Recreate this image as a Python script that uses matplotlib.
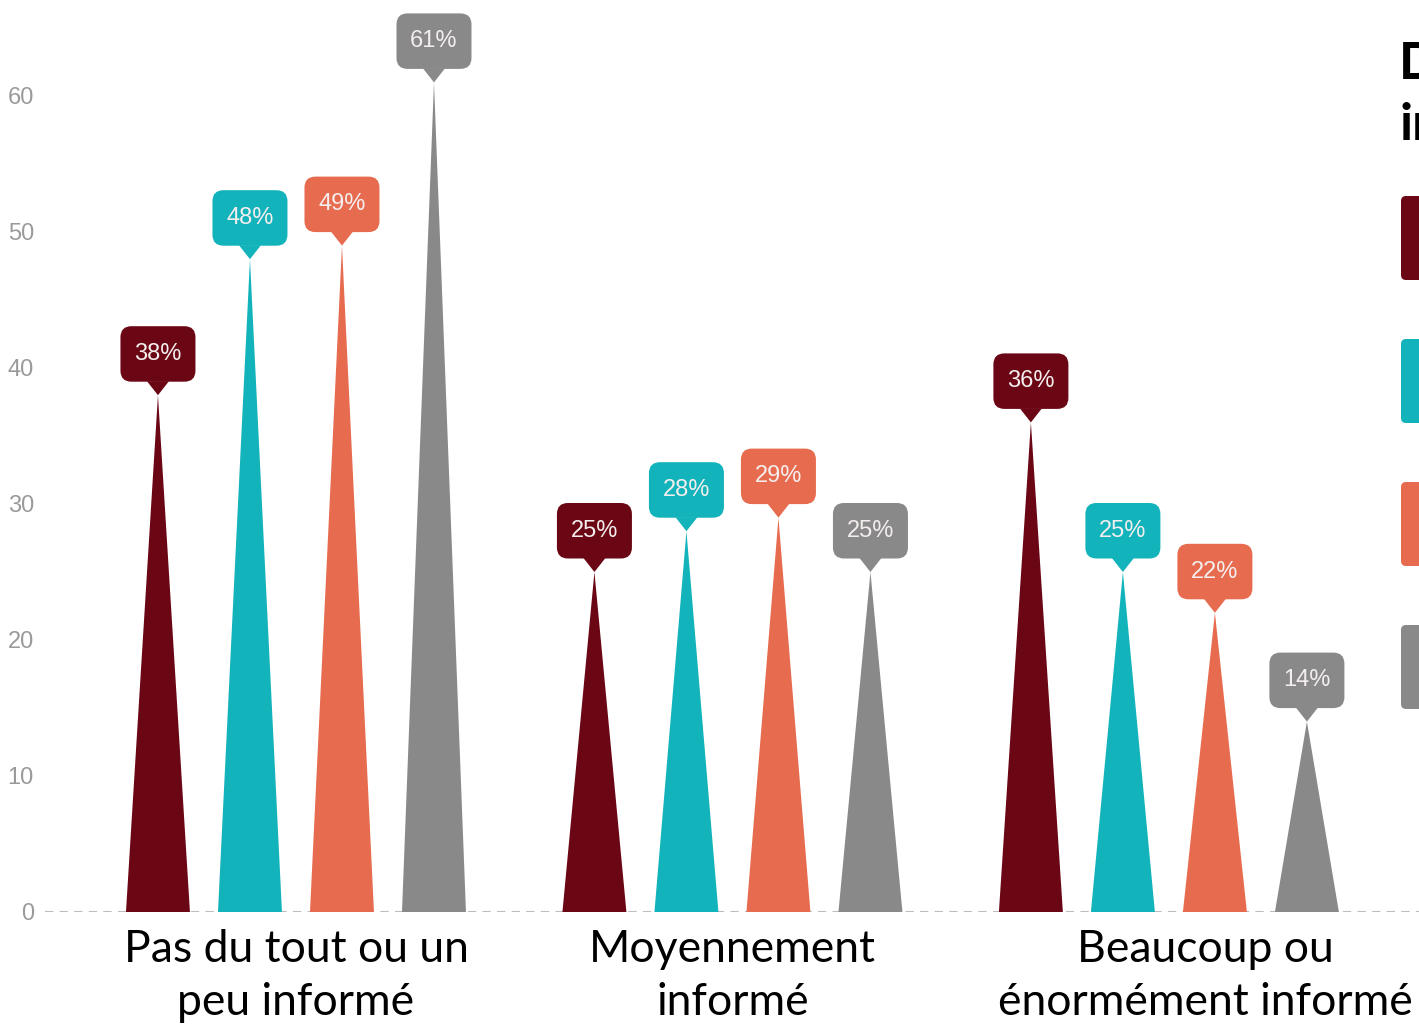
import matplotlib
matplotlib.use("Agg")
import matplotlib.pyplot as plt
from matplotlib.patches import Polygon, FancyBboxPatch
from matplotlib.transforms import ScaledTranslation

# Données
categories = ["Pas du tout ou un\npeu informé", "Moyennement\ninformé", "Beaucoup ou\nénormément informé"]
serie_1 = [38, 25, 36]
serie_2 = [48, 28, 25]
serie_3 = [49, 29, 22]
serie_4 = [61, 25, 14]
valeurs = [serie_1, serie_2, serie_3, serie_4]
couleurs = ["#6b0615", "#12b3bb", "#e76c4f", "#898989"]
yticks = [0, 10, 20, 30, 40, 50, 60]
titre_legende = ["Degré d'", "information"]

W, H = 1419, 1025
fig = plt.figure(figsize=(W / 100, H / 100), dpi=100)
ax = fig.add_axes([45 / W, 113 / H, (W - 45) / W, 912 / H])
ax.set_xlim(-0.575, 2.573)
ax.set_ylim(0, 912 / 13.6)

decalage = 0.2108   # écart entre deux pics d'un même groupe
largeur = 0.1466    # largeur de la base d'un pic

# ligne de base pointillée
ax.axhline(0, color="#bdbdbd", lw=1.5, ls=(0, (4, 3)), zorder=1)

for i, serie in enumerate(valeurs):
    for g, v in enumerate(serie):
        x = g + (i - 1.5) * decalage
        ax.add_patch(Polygon([(x - largeur / 2, 0), (x + largeur / 2, 0), (x, v)],
                             closed=True, facecolor=couleurs[i], edgecolor="none", zorder=2))
        # étiquette en bulle au sommet
        tr = fig.dpi_scale_trans + ScaledTranslation(x, v, ax.transData)
        ax.add_patch(Polygon([(-0.11, 0.14), (0.11, 0.14), (0, 0)], closed=True,
                             facecolor=couleurs[i], edgecolor="none", transform=tr,
                             clip_on=False, zorder=3))
        ax.add_patch(FancyBboxPatch((-0.375, 0.135), 0.75, 0.555,
                                    boxstyle="round,pad=0,rounding_size=0.11",
                                    facecolor=couleurs[i], edgecolor="none", transform=tr,
                                    clip_on=False, zorder=3))
        ax.text(0, 0.135 + 0.2775, f"{v}%", transform=tr, ha="center", va="center",
                color="#f4eeee", fontsize=17, family="Liberation Sans", zorder=4)

# axes
for s in ax.spines.values():
    s.set_visible(False)
ax.set_yticks(yticks)
ax.set_xticks([])
ax.tick_params(axis="y", length=0, pad=8, labelsize=17, labelcolor="#9a9a9a")
for lab in ax.get_yticklabels():
    lab.set_family("Liberation Sans")

# noms des catégories
dx = [0, 0, 0.36]
for g, nom in enumerate(categories):
    tr = fig.dpi_scale_trans + ScaledTranslation(g, 0, ax.transData)
    ax.text(dx[g], -0.64, nom, transform=tr, ha="center", va="center",
            fontsize=32, family="Lato", color="black", linespacing=1.38, clip_on=False)

# légende coupée à droite
for i, c in enumerate(couleurs):
    haut = 196 + i * 143
    fig.add_artist(FancyBboxPatch((14.01, (H - haut - 84) / 100), 0.5, 0.84,
                                  boxstyle="round,pad=0,rounding_size=0.05",
                                  facecolor=c, edgecolor="none",
                                  transform=fig.dpi_scale_trans))
fig.text(1399 / W, 1 - 78 / H, titre_legende[0], fontsize=37, fontweight="bold",
         family="Lato", va="baseline", ha="left")
fig.text(1399 / W, 1 - 140 / H, titre_legende[1], fontsize=37, fontweight="bold",
         family="Lato", va="baseline", ha="left")

fig.savefig("out.png", dpi=100)
